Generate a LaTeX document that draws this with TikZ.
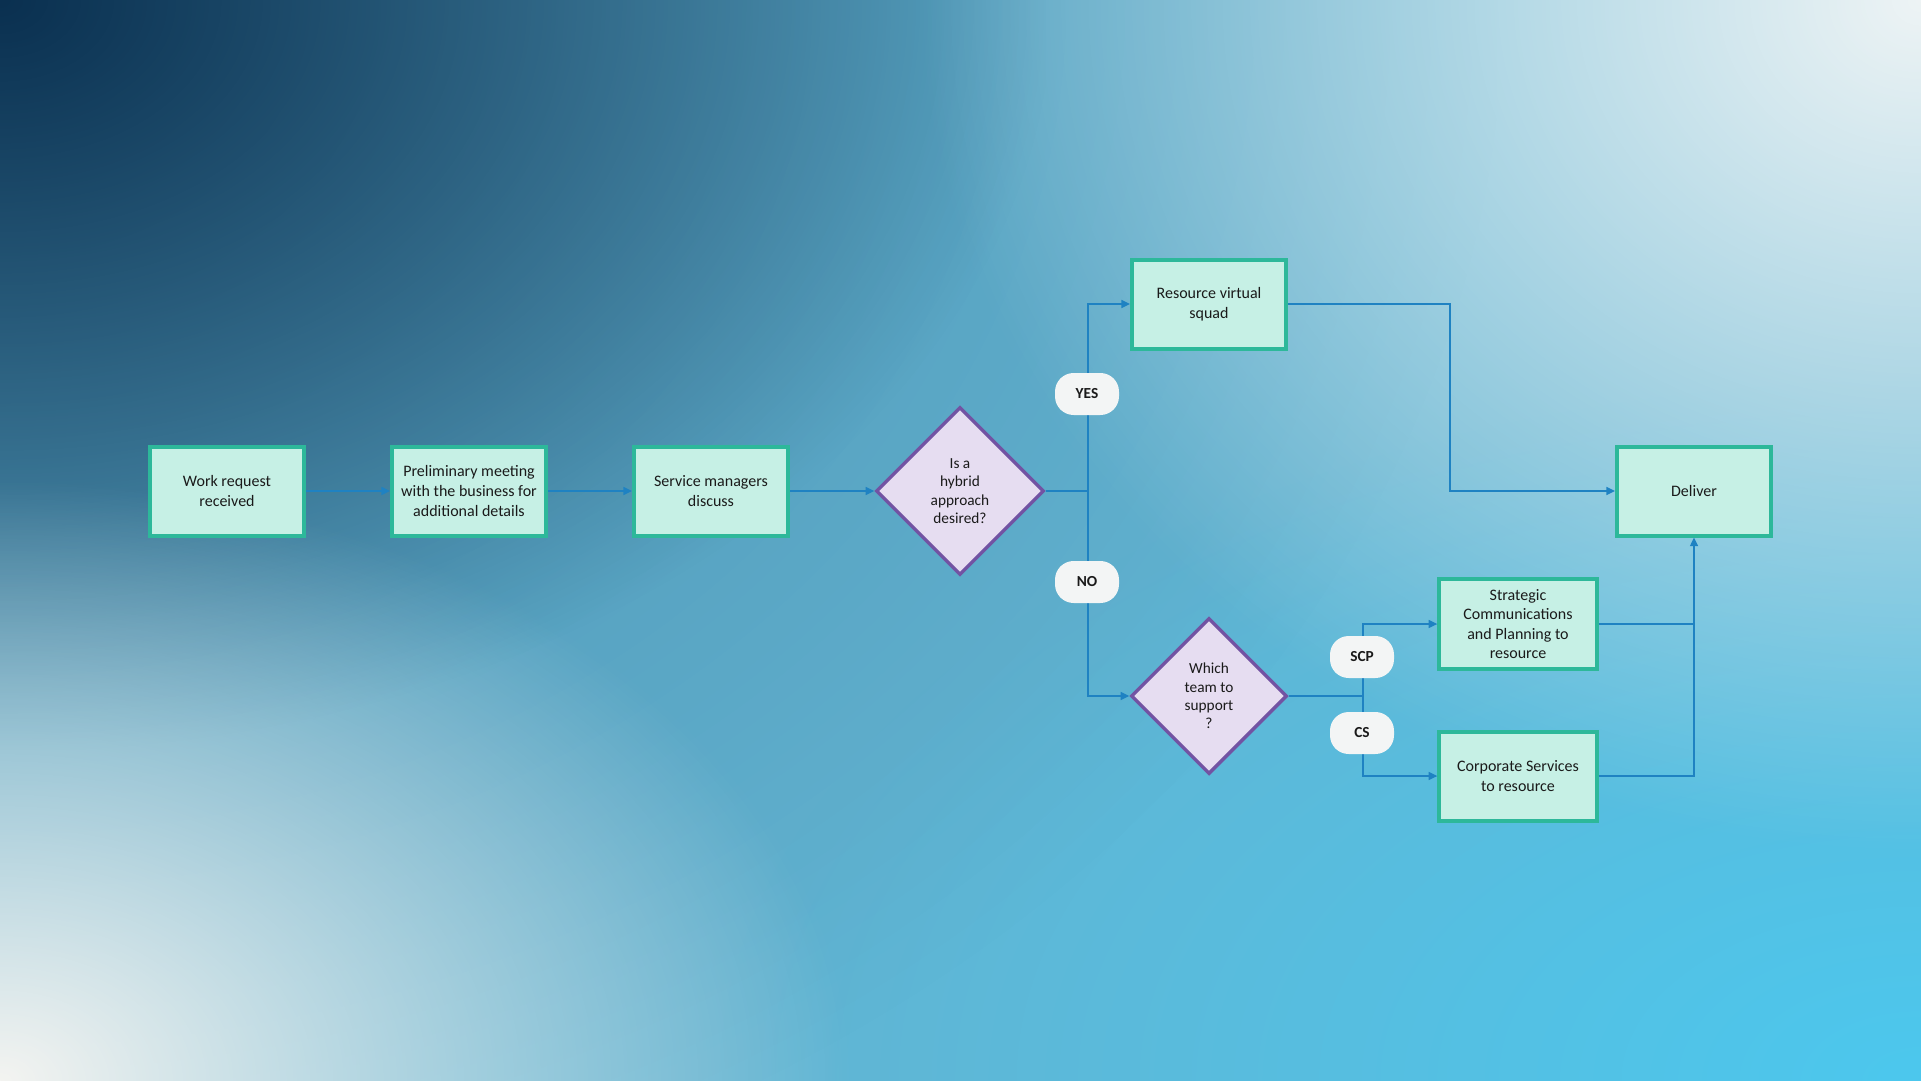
\documentclass[tikz,border=0pt]{standalone}
\usepackage{fontspec}
\setmainfont{Carlito}
\usetikzlibrary{shapes.geometric,arrows.meta,fadings,calc}
\tikzfading[name=softcorner, inner color=transparent!0, outer color=transparent!100]
\definecolor{bgmid}{HTML}{62B4D2}
\definecolor{bgdark}{HTML}{0A3050}
\definecolor{bggray}{HTML}{3A6F8F}
\definecolor{bgwhite}{HTML}{EEF4F5}
\definecolor{bgwhite2}{HTML}{F4F4F1}
\definecolor{bgcyan}{HTML}{4CC8EE}
\definecolor{boxfill}{HTML}{C6F0E5}
\definecolor{boxline}{HTML}{2DB89A}
\definecolor{dfill}{HTML}{E6DDF1}
\definecolor{dline}{HTML}{7253A3}
\definecolor{conncol}{HTML}{1F82C2}
\definecolor{pillfill}{HTML}{F3F5F5}
\definecolor{txt}{HTML}{1A1A1A}
\begin{document}
\begin{tikzpicture}[x=0.75pt,y=-0.75pt,
  procbox/.style={draw=boxline, fill=boxfill, line width=3pt, minimum width=115.5pt, minimum height=66.75pt,
    align=center, text=txt, font=\fontsize{12}{14.7}\selectfont, inner sep=2pt},
  decbox/.style={diamond, draw=dline, fill=dfill, line width=2.6pt, inner sep=0pt, align=center, text=txt,
    font=\fontsize{11.5}{13.8}\selectfont},
  pill/.style={fill=pillfill, rounded corners=14pt, minimum width=48pt, minimum height=31.5pt, inner sep=0pt,
    font=\bfseries\fontsize{11.5}{13}\selectfont, text=txt},
  conn/.style={draw=conncol, line width=1.1pt},
  arr/.style={conn, -{Triangle[length=6.5pt,width=6pt]}}]
\useasboundingbox (0,0) rectangle (1921,1081);
% background
\begin{scope}
\clip (0,0) rectangle (1921,1081);
\fill[bgmid] (0,0) rectangle (1921,1081);
\fill[bgcyan, path fading=softcorner] (721,381) rectangle (3121,1781);
\fill[bggray, fill opacity=0.6, path fading=softcorner] (-1500,-1250) rectangle (1500,1250);
\fill[bgdark, path fading=softcorner] (-1050,-750) rectangle (1050,750);
\fill[bgwhite, path fading=softcorner] (921,-850) rectangle (2921,850);
\fill[bgwhite2, path fading=softcorner] (-850,481) rectangle (850,1681);
\end{scope}
% nodes
\node[procbox] (wr) at (227,491) {Work request\\received};
\node[procbox] (pm) at (469,491) {Preliminary meeting\\with the business for\\additional details};
\node[procbox] (sm) at (711,491) {Service managers\\discuss};
\node[decbox, minimum width=126pt, minimum height=126pt] (d1) at (960,491) {Is a\\hybrid\\approach\\desired?};
\node[procbox] (rv) at (1209,304) {Resource virtual\\squad};
\node[decbox, minimum width=117pt, minimum height=117pt] (d2) at (1209,696) {Which\\team to\\support\\?};
\node[procbox, minimum width=118pt, minimum height=67.5pt] (st) at (1518,624) {Strategic\\Communications\\and Planning to\\resource};
\node[procbox, minimum width=118pt] (cp) at (1518,776) {Corporate Services\\to resource};
\node[procbox] (dl) at (1694,491) {Deliver};
\coordinate (j1) at (1088,491);
\coordinate (j2) at (1363,696);
\coordinate (k1) at (1450,491);
% connectors
\draw[arr] (wr.east) -- (pm.west);
\draw[arr] (pm.east) -- (sm.west);
\draw[arr] (sm.east) -- (d1.west);
\draw[conn] (d1.east) -- (j1);
\draw[arr] (j1) |- (rv.west);
\draw[arr] (j1) |- (d2.west);
\draw[arr] (rv.east) -| (k1) -- (dl.west);
\draw[conn] (d2.east) -- (j2);
\draw[arr] (j2) |- (st.west);
\draw[arr] (j2) |- (cp.west);
\draw[conn] (st.east) -- (st.east -| dl.south);
\draw[arr] (cp.east) -| (dl.south);
% labels
\node[pill] (yes) at (1087,394) {YES};
\node[pill] (no) at (1087,582) {NO};
\node[pill] (scp) at (1362,657) {SCP};
\node[pill] (cs) at (1362,733) {CS};
\end{tikzpicture}
\end{document}
